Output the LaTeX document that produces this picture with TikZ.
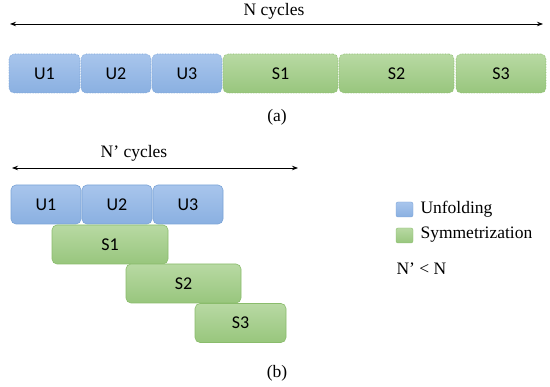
\documentclass[tikz,border=0pt]{standalone}
\usepackage{fontspec}
\setmainfont{Liberation Serif}
\newfontfamily\boxfont{Carlito}
\usetikzlibrary{arrows.meta}

\definecolor{ublueTop}{RGB}{168,197,236}
\definecolor{ublueBot}{RGB}{138,176,225}
\definecolor{ublueLine}{RGB}{122,163,214}
\definecolor{sgreenTop}{RGB}{184,217,163}
\definecolor{sgreenBot}{RGB}{152,198,125}
\definecolor{sgreenLine}{RGB}{138,188,108}

\tikzset{
    ubox/.style={rectangle, rounded corners=5pt, inner sep=0pt,
        top color=ublueTop, bottom color=ublueBot, draw=ublueLine,
        minimum height=39pt, font=\boxfont\fontsize{18}{20}\selectfont},
    sbox/.style={ubox, top color=sgreenTop, bottom color=sgreenBot, draw=sgreenLine},
    dotborder/.style={densely dotted, line width=0.6pt},
    plainborder/.style={line width=0.6pt},
    serif/.style={font=\fontsize{17.5}{20}\selectfont},
    keybox/.style={rectangle, rounded corners=2pt, minimum width=17pt, minimum height=15pt, inner sep=0pt}
}

\begin{document}
\begin{tikzpicture}[
    x=1pt, y=-1pt,
    >={Stealth[length=6pt,width=4.5pt]}
]
\useasboundingbox (0,0) rectangle (550,387);

% (a) one after the other
\coordinate (na) at (10,24);
\coordinate (nb) at (543,24);
\node[serif] (ncyc) at (274,11) {N cycles};
\draw[<->, line width=0.8pt] (na) -- (nb);

\node[ubox, dotborder, minimum width=71pt] (au1) at (44.5,73.5) {U1};
\node[ubox, dotborder, minimum width=70pt] (au2) at (116,73.5) {U2};
\node[ubox, dotborder, minimum width=70pt] (au3) at (187,73.5) {U3};
\node[sbox, dotborder, minimum width=115pt] (as1) at (280.5,73.5) {S1};
\node[sbox, dotborder, minimum width=115pt] (as2) at (396.5,73.5) {S2};
\node[sbox, dotborder, minimum width=90pt] (as3) at (501,73.5) {S3};

\node[serif] (capa) at (277,117) {(a)};

% (b) overlapping
\coordinate (npa) at (12,168);
\coordinate (npb) at (298,168);
\node[serif] (npcyc) at (134,153) {N’ cycles};
\draw[<->, line width=0.8pt] (npa) -- (npb);

\node[ubox, plainborder, minimum width=70pt] (bu1) at (46,204.5) {U1};
\node[ubox, plainborder, minimum width=70pt] (bu2) at (117,204.5) {U2};
\node[ubox, plainborder, minimum width=70pt] (bu3) at (188,204.5) {U3};
\node[sbox, plainborder, minimum width=116pt] (bs1) at (110,244.5) {S1};
\node[sbox, plainborder, minimum width=115pt] (bs2) at (183.5,283.5) {S2};
\node[sbox, plainborder, minimum width=91pt] (bs3) at (240.5,323) {S3};

\node[serif] (capb) at (277,373) {(b)};

% legend
\node[keybox, top color=ublueTop, bottom color=ublueBot, draw=ublueLine] (ukey) at (404.5,209.5) {};
\node[serif, anchor=west] (ulab) at (417,209) {Unfolding};
\node[keybox, top color=sgreenTop, bottom color=sgreenBot, draw=sgreenLine] (skey) at (404.5,235.5) {};
\node[serif, anchor=west] (slab) at (417,235) {Symmetrization};
\node[serif, anchor=west] (nrel) at (393,269) {N’ < N};

\end{tikzpicture}
\end{document}
